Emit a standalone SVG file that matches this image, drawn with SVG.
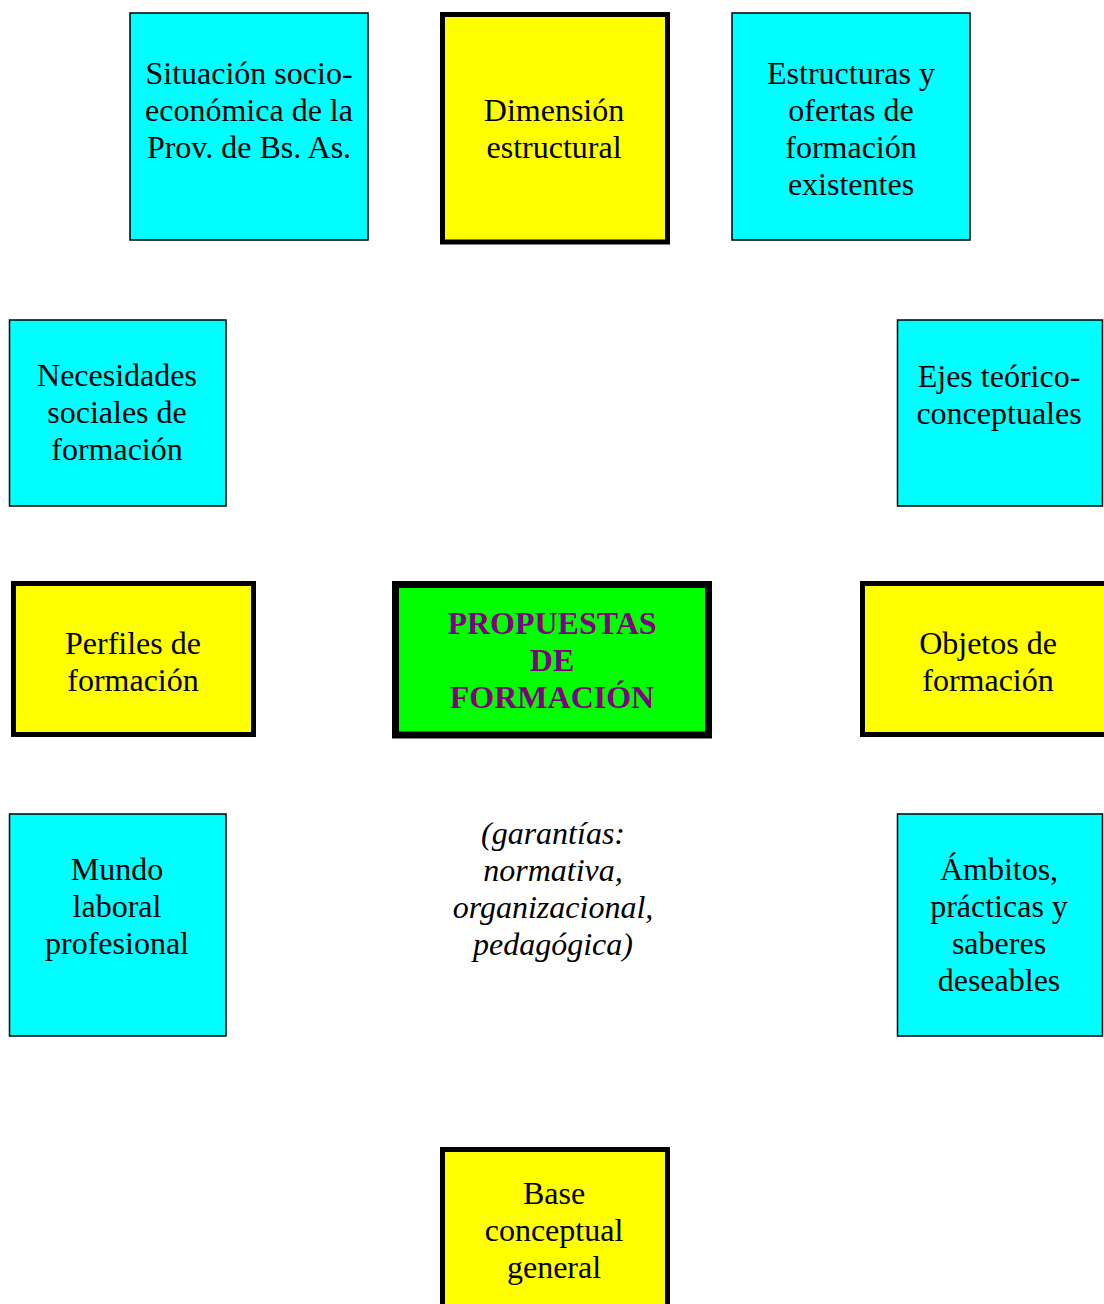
<svg xmlns="http://www.w3.org/2000/svg" width="1104" height="1304" viewBox="0 0 1104 1304">
<style>
.c{fill:#00ffff;stroke:#000;stroke-width:1.5}
.y{fill:#ffff00;stroke:#000;stroke-width:5}
.g{fill:#00ff00;stroke:#000;stroke-width:7}
text{font-family:'Liberation Serif','Times New Roman',serif;font-size:32px;text-anchor:middle;fill:#000}
.b{font-weight:bold;fill:#800080}
.i{font-style:italic}
</style>
<rect width="1104" height="1304" fill="#fff"/>
<g id="connectors"></g>
<g id="situacion"><rect class="c" x="130" y="13" width="238" height="227"/>
<text x="249" y="84">Situación socio-</text><text x="249" y="121">económica de la</text><text x="249" y="158">Prov. de Bs. As.</text></g>
<g id="dimension"><rect class="y" x="442.5" y="14.5" width="225" height="227.5"/>
<text x="554" y="121">Dimensión</text><text x="554" y="158">estructural</text></g>
<g id="estructuras"><rect class="c" x="732" y="13" width="238" height="227"/>
<text x="851" y="84">Estructuras y</text><text x="851" y="121">ofertas de</text><text x="851" y="158">formación</text><text x="851" y="195">existentes</text></g>
<g id="necesidades"><rect class="c" x="9.5" y="320" width="216.5" height="186"/>
<text x="117" y="386">Necesidades</text><text x="117" y="423">sociales de</text><text x="117" y="460">formación</text></g>
<g id="ejes"><rect class="c" x="897.5" y="320" width="205" height="186"/>
<text x="999" y="387">Ejes teórico-</text><text x="999" y="424">conceptuales</text></g>
<g id="perfiles"><rect class="y" x="13.5" y="583.5" width="240" height="151"/>
<text x="133" y="654">Perfiles de</text><text x="133" y="691">formación</text></g>
<g id="propuestas"><rect class="g" x="395.5" y="584.5" width="313" height="150.5"/>
<text class="b" x="552" y="634">PROPUESTAS</text><text class="b" x="552" y="671">DE</text><text class="b" x="552" y="708">FORMACIÓN</text></g>
<g id="objetos"><rect class="y" x="862.5" y="583.5" width="245" height="151"/>
<text x="988" y="654">Objetos de</text><text x="988" y="691">formación</text></g>
<g id="garantias">
<text class="i" x="553" y="844">(garantías:</text><text class="i" x="553" y="881">normativa,</text><text class="i" x="553" y="918">organizacional,</text><text class="i" x="553" y="955">pedagógica)</text></g>
<g id="mundo"><rect class="c" x="9.5" y="814" width="216.5" height="222"/>
<text x="117" y="880">Mundo</text><text x="117" y="917">laboral</text><text x="117" y="954">profesional</text></g>
<g id="ambitos"><rect class="c" x="897.5" y="814" width="205" height="222"/>
<text x="999" y="880">Ámbitos,</text><text x="999" y="917">prácticas y</text><text x="999" y="954">saberes</text><text x="999" y="991">deseables</text></g>
<g id="base"><rect class="y" x="442.5" y="1149.5" width="225" height="160"/>
<text x="554" y="1204">Base</text><text x="554" y="1241">conceptual</text><text x="554" y="1278">general</text></g>
</svg>
